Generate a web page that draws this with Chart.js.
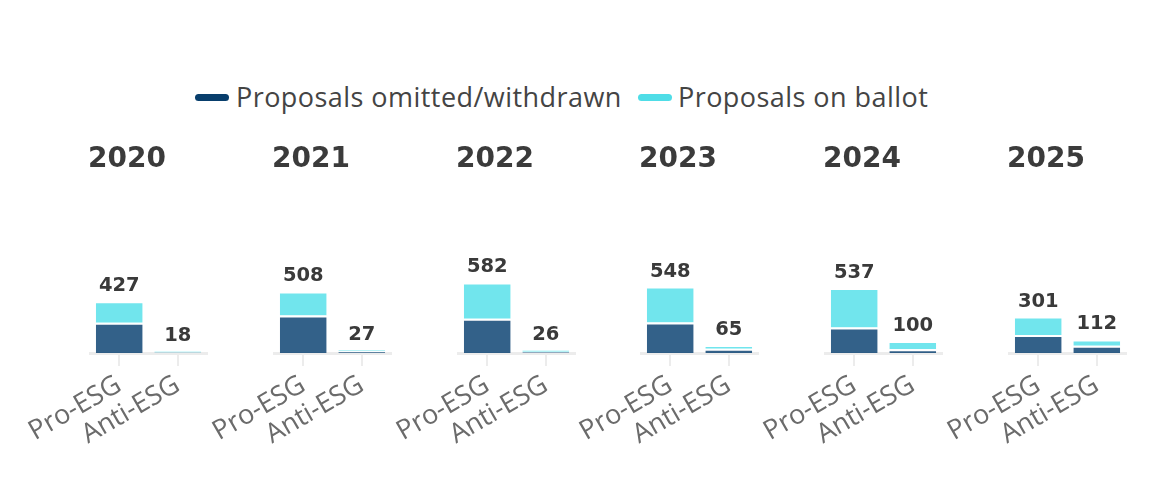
<!DOCTYPE html>
<html>
<head>
<meta charset="utf-8">
<script src="https://cdn.jsdelivr.net/npm/chart.js@4.4.0/dist/chart.umd.min.js"></script>
<style>
  html, body { margin: 0; padding: 0; background: #fff; }
  #wrap { position: relative; width: 1162px; height: 496px; overflow: hidden; background: #fff; }
  #wrap canvas { position: absolute; }
  .lg-mark { position: absolute; height: 7px; width: 34px; border-radius: 4px; top: 94px; }
  .lg-text { position: absolute; top: 80px; line-height: 34px; font-family: "Open Sans", sans-serif; font-size: 27px; letter-spacing: 0.45px; color: #444; white-space: nowrap; }
</style>
</head>
<body>
<div id="wrap"></div>
<script>
// ---- data ----
const years = ['2020', '2021', '2022', '2023', '2024', '2025'];
const categories = ['Pro-ESG', 'Anti-ESG'];
const seriesNames = ['Proposals omitted/withdrawn', 'Proposals on ballot'];
const proOmitted  = [249, 310, 282, 252, 211, 148];
const proBallot   = [178, 198, 300, 296, 326, 153];
const antiOmitted = [4, 14, 10, 35, 30, 60];
const antiBallot  = [14, 13, 16, 30, 70, 52];

// ---- styles ----
const legendColors = ['#083e6c', '#4fdde7'];
const barColors = ['rgba(0,58,107,0.8)', 'rgba(77,223,233,0.8)'];

const wrap = document.getElementById('wrap');

// legend (HTML text)
const legendPos = [{mark: 195, text: 236}, {mark: 638, text: 678}];
seriesNames.forEach((name, k) => {
  const m = document.createElement('div');
  m.className = 'lg-mark';
  m.style.left = legendPos[k].mark + 'px';
  m.style.background = legendColors[k];
  wrap.appendChild(m);
  const t = document.createElement('div');
  t.className = 'lg-text';
  t.style.left = legendPos[k].text + 'px';
  t.textContent = name;
  wrap.appendChild(t);
});

const totalLabels = {
  id: 'totalLabels',
  afterDatasetsDraw(chart) {
    const ctx = chart.ctx;
    const xs = chart.scales.x, ys = chart.scales.y;
    const ds = chart.data.datasets;
    ctx.save();
    ctx.font = 'bold 19.5px "DejaVu Sans"';
    ctx.fillStyle = '#3a3a3a';
    ctx.textAlign = 'center';
    ctx.textBaseline = 'alphabetic';
    chart.data.labels.forEach((lab, i) => {
      const total = ds.reduce((s, d) => s + d.data[i], 0);
      ctx.fillText(String(total), xs.getPixelForValue(i), ys.getPixelForValue(total) - 10);
    });
    ctx.restore();
  }
};

years.forEach((yr, i) => {
  const c = document.createElement('canvas');
  c.width = 212; c.height = 340;
  c.style.left = (7 + 183.8 * i) + 'px';
  c.style.top = '130px';
  c.style.width = '212px'; c.style.height = '340px';
  wrap.appendChild(c);
  const mk = (k, data) => ({
    label: seriesNames[k],
    data: data,
    backgroundColor: barColors[k],
    borderColor: '#ffffff',
    borderWidth: {top: 2, left: 0, right: 0, bottom: 0},
    borderSkipped: false
  });
  new Chart(c, {
    type: 'bar',
    data: {
      labels: categories,
      datasets: [
        mk(0, [proOmitted[i], antiOmitted[i]]),
        mk(1, [proBallot[i], antiBallot[i]])
      ]
    },
    options: {
      responsive: false,
      animation: false,
      devicePixelRatio: 1,
      layout: {padding: {left: 40, right: 12, top: 0, bottom: 0}},
      datasets: {bar: {categoryPercentage: 1, barPercentage: 0.8}},
      plugins: {
        legend: {display: false},
        tooltip: {enabled: false},
        title: {
          display: true, text: yr, color: '#3b3b3b',
          font: {family: 'DejaVu Sans', size: 28, weight: 'bold', lineHeight: 1.2},
          padding: {top: 13, bottom: 31}
        }
      },
      scales: {
        x: {
          stacked: true,
          offset: true,
          grid: {offset: false, drawOnChartArea: false, drawTicks: true, tickLength: 13, color: '#ececec', lineWidth: 2},
          border: {color: '#ececec', width: 3},
          ticks: {autoSkip: false, minRotation: 30, maxRotation: 30, color: '#6b6b6b', font: {family: 'Open Sans', size: 27}, padding: 3},
          afterFit(s) { s.height = 117; s.paddingLeft = 0; s.paddingRight = 0; }
        },
        y: {
          stacked: true, min: 0, max: 1200,
          ticks: {display: false},
          grid: {display: false},
          border: {display: false},
          afterFit(s) { s.width = 43; }
        }
      }
    },
    plugins: [totalLabels]
  });
});
</script>
</body>
</html>
